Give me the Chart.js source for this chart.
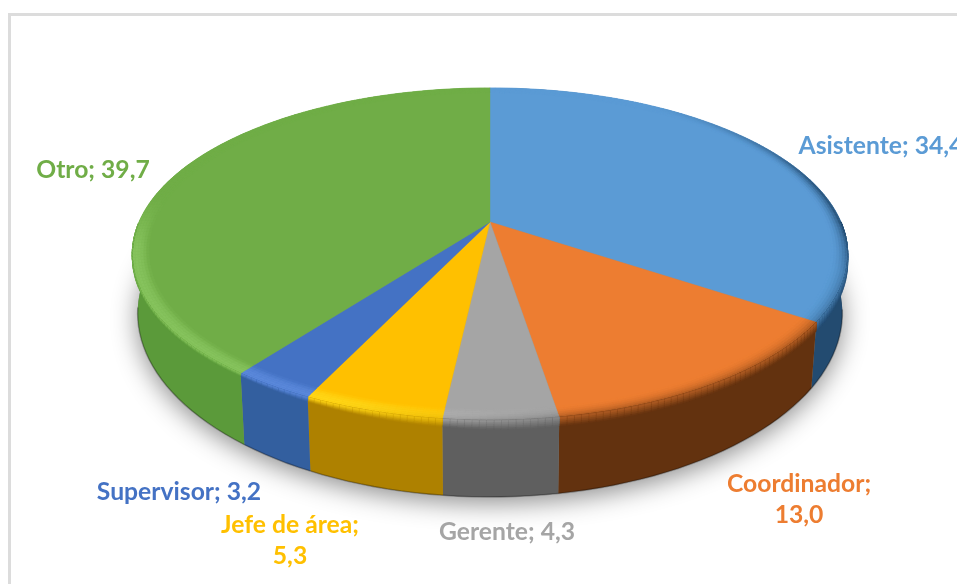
<!DOCTYPE html>
<html>
<head>
<meta charset="utf-8">
<style>
    html, body { margin: 0; padding: 0; background: #fff; overflow: hidden; }
    #frame { position: absolute; left: 8px; top: 13px; width: 960px; height: 580px; border-left: 3px solid #dcdcdc; border-top: 3px solid #dcdcdc; }
    #pie { position: absolute; left: 0; top: 0; }
</style>
<script src="https://cdn.jsdelivr.net/npm/chart.js@4"></script>
</head>
<body>
<div id="frame"></div>
<canvas id="pie" width="957" height="584"></canvas>
<script>
'use strict';

const categories = ['Asistente', 'Coordinador', 'Gerente', 'Jefe de área', 'Supervisor', 'Otro'];
const shares = [34.4, 13.0, 4.3, 5.3, 3.2, 39.7];

const topColors = ['#5b9bd5', '#ed7d31', '#a5a5a5', '#ffc000', '#4472c4', '#70ad47'];
const sideColors = ['#234b70', '#63320f', '#5f5f5f', '#ae8100', '#335f9f', '#5b9a3a'];

// label centre, one entry per category; second line goes under the first
const labelSpots = [[881, 146], [799, 484], [507, 532], [290, 525], [179, 492], [93, 170]];
const labelBreaks = [false, true, false, true, false, false];
const labelLineGap = 31;

// fake perspective of the tilted disc
const tilt = { xStretch: 351 / 222, yStretch: 160 / 222, persp: 0.193, shrink: 0.985, depth: 56, depthPersp: 0.27, bevel: 0.955 };

const clamp = (n) => Math.max(0, Math.min(1, n));
const hexToRgb = (hex) => [1, 3, 5].map((i) => parseInt(hex.slice(i, i + 2), 16));
const rgbText = (c) => 'rgb(' + c.map(Math.round).join(',') + ')';

let rimPoint = (arc, angle, k) => {
    let u = k * Math.cos(angle), v = k * Math.sin(angle), w = 1 - tilt.persp * v;
    return [arc.x + arc.outerRadius * tilt.xStretch * u / w, arc.y + arc.outerRadius * tilt.yStretch * v / w];
};
let basePoint = (arc, angle) => {
    let p = rimPoint(arc, angle, 1);
    return [arc.x + (p[0] - arc.x) * tilt.shrink, p[1] + tilt.depth / (1 - tilt.depthPersp * Math.sin(angle))];
};
let anglesOf = (arc, stepDeg) => {
    let n = Math.max(2, Math.ceil((arc.endAngle - arc.startAngle) / (stepDeg * Math.PI / 180)));
    let out = [];
    for (let i = 0; i <= n; i++) out.push(arc.startAngle + (arc.endAngle - arc.startAngle) * i / n);
    return out;
};
let tracePoints = (ctx, pts) => {
    pts.forEach((p, i) => i ? ctx.lineTo(p[0], p[1]) : ctx.moveTo(p[0], p[1]));
    ctx.closePath();
};
let fillQuad = (ctx, pts, color) => {
    ctx.fillStyle = color;
    ctx.strokeStyle = color;
    ctx.lineWidth = 0.4;
    ctx.beginPath();
    tracePoints(ctx, pts);
    ctx.fill();
    ctx.stroke();
};

let rimColor = (top, side, angle, t) => {
    let u = Math.cos(angle), v = Math.sin(angle);
    let dark = t * t * clamp((u + 0.4) / 0.6) * clamp((v + 0.85) / 0.6) * (1 - 0.55 * clamp(v / 0.3));
    let light = 22 * Math.sin(Math.PI * t * 0.65) * clamp((0.2 - u) / 0.5) * clamp((v + 0.15) / 0.3);
    return top.map((c, i) => {
        let lit = Math.min(255, c + light);
        return lit + (side[i] - lit) * dark;
    });
};

const disc3d = {
    id: 'disc3d',
    beforeDatasetsDraw(chart) {
        let ctx = chart.ctx;
        let arcs = chart.getDatasetMeta(0).data;
        ctx.save();

        // soft shadow under the disc
        let outline = [];
        arcs.forEach((arc) => anglesOf(arc, 2).forEach((a) => outline.push(basePoint(arc, a))));
        ctx.save();
        ctx.shadowColor = 'rgba(0,0,0,0.45)';
        ctx.shadowBlur = 26;
        ctx.shadowOffsetY = 6;
        ctx.fillStyle = '#888';
        ctx.beginPath();
        tracePoints(ctx, outline);
        ctx.fill();
        ctx.restore();

        // outer wall
        arcs.forEach((arc, i) => {
            let angles = anglesOf(arc, 2);
            let pts = angles.map((a) => rimPoint(arc, a, 1)).concat(angles.slice().reverse().map((a) => basePoint(arc, a)));
            ctx.fillStyle = sideColors[i];
            ctx.beginPath();
            tracePoints(ctx, pts);
            ctx.fill();
        });

        // dark line where the wall meets the ground
        ctx.strokeStyle = 'rgba(0,0,0,0.28)';
        ctx.lineWidth = 1.6;
        arcs.forEach((arc) => {
            let angles = anglesOf(arc, 2).filter((a) => Math.sin(a) > 0.15);
            ctx.beginPath();
            angles.forEach((a, n) => {
                let p = basePoint(arc, a);
                n ? ctx.lineTo(p[0], p[1]) : ctx.moveTo(p[0], p[1]);
            });
            ctx.stroke();
        });

        // top faces
        arcs.forEach((arc, i) => {
            let pts = [[arc.x, arc.y]].concat(anglesOf(arc, 1).map((a) => rimPoint(arc, a, 1)));
            fillQuad(ctx, pts, topColors[i]);
        });

        // bevel round the edge, then the blur that runs down onto the wall
        let rings = 6, bands = 5;
        arcs.forEach((arc, i) => {
            let top = hexToRgb(topColors[i]), side = hexToRgb(sideColors[i]);
            let angles = anglesOf(arc, 1);
            for (let s = 0; s < angles.length - 1; s++) {
                let a0 = angles[s], a1 = angles[s + 1], mid = (a0 + a1) / 2;
                for (let r = 0; r < rings; r++) {
                    let k0 = tilt.bevel + (1 - tilt.bevel) * r / rings;
                    let k1 = tilt.bevel + (1 - tilt.bevel) * (r + 1) / rings;
                    fillQuad(ctx, [rimPoint(arc, a0, k0), rimPoint(arc, a1, k0), rimPoint(arc, a1, k1), rimPoint(arc, a0, k1)],
                        rgbText(rimColor(top, side, mid, (r + 0.5) / rings)));
                }
                let edge = rimColor(top, side, mid, 1);
                let drop = (3 + 6 * clamp((Math.cos(mid) + 0.6) / 0.6)) * clamp(Math.sin(mid) / 0.2);
                if (drop <= 0) continue;
                let p0 = rimPoint(arc, a0, 1), p1 = rimPoint(arc, a1, 1);
                for (let b = bands - 1; b >= 0; b--) {
                    let f = (b + 1) / bands;
                    let c = edge.map((e, n) => e + (side[n] - e) * (b + 0.5) / bands);
                    fillQuad(ctx, [p0, p1, [p1[0], p1[1] + drop * f], [p0[0], p0[1] + drop * f]], rgbText(c));
                }
            }
        });

        ctx.restore();
        return false;
    },
    afterDraw(chart) {
        let ctx = chart.ctx;
        ctx.save();
        ctx.font = 'bold 24.7px Lato, "Open Sans", sans-serif';
        ctx.textAlign = 'center';
        ctx.textBaseline = 'middle';
        categories.forEach((name, i) => {
            let value = shares[i].toFixed(1).replace('.', ',');
            ctx.fillStyle = topColors[i];
            if (labelBreaks[i]) {
                ctx.fillText(name + ';', labelSpots[i][0], labelSpots[i][1]);
                ctx.fillText(value, labelSpots[i][0], labelSpots[i][1] + labelLineGap);
            } else {
                ctx.fillText(name + '; ' + value, labelSpots[i][0], labelSpots[i][1]);
            }
        });
        ctx.restore();
    }
};

new Chart(document.getElementById('pie'), {
    type: 'pie',
    data: {
        labels: categories,
        datasets: [{ data: shares, backgroundColor: topColors, borderWidth: 0 }]
    },
    options: {
        responsive: false,
        animation: false,
        // puts the pie centre at 490,222
        layout: { padding: { left: 23, right: 0, top: 0, bottom: 140 } },
        plugins: { legend: { display: false }, tooltip: { enabled: false } }
    },
    plugins: [disc3d]
});
</script>
</body>
</html>
